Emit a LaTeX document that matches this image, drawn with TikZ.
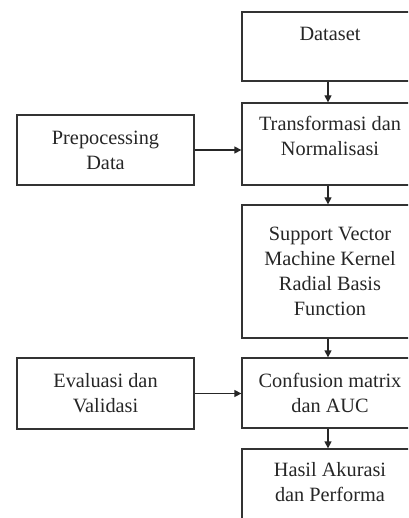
\documentclass[tikz,border=0pt]{standalone}
\usepackage{fontspec}
\setmainfont{Liberation Serif}
\usetikzlibrary{arrows.meta}
\begin{document}
\begin{tikzpicture}[x=1pt,y=-1pt,
  box/.style={draw=black!80,line width=1.3pt,rectangle,inner sep=0pt,
    align=center,text=black!85,font=\fontsize{20.3}{25}\selectfont},
  conn/.style={draw=black!85,line width=1.3pt,-{Triangle[length=7pt,width=7pt]}}]
\useasboundingbox (0,0) rectangle (408,518);
\clip (0,0) rectangle (408,518);
\fill[white] (0,0) rectangle (408,518);
\node[box,minimum width=176pt,minimum height=69pt] (data) at (330,46.5) {Dataset\\~};
\node[box,minimum width=176pt,minimum height=82pt] (trans) at (330,144) {Transformasi dan\\Normalisasi\\[-8pt]~};
\node[box,minimum width=176pt,minimum height=133pt] (svm) at (330,271.5) {Support Vector\\Machine Kernel\\Radial Basis\\Function};
\node[box,minimum width=176pt,minimum height=70pt] (conf) at (330,393) {Confusion matrix\\dan AUC};
\node[box,minimum width=176pt,minimum height=90pt] (hasil) at (330,494) {Hasil Akurasi\\dan Performa\\~};
\node[box,minimum width=177pt,minimum height=70pt] (prep) at (105.5,150) {Prepocessing\\Data};
\node[box,minimum width=177pt,minimum height=71pt] (eval) at (105.5,393.5) {Evaluasi dan\\Validasi};
\draw[conn] (data.south -| 328,0) -- (trans.north -| 328,0);
\draw[conn] (trans.south -| 328,0) -- (svm.north -| 328,0);
\draw[conn] (svm.south -| 328,0) -- (conf.north -| 328,0);
\draw[conn] (conf.south -| 328,0) -- (hasil.north -| 328,0);
\draw[conn] (prep.east) -- (prep.east -| trans.west);
\draw[conn] (eval.east) -- (eval.east -| conf.west);
\end{tikzpicture}
\end{document}
